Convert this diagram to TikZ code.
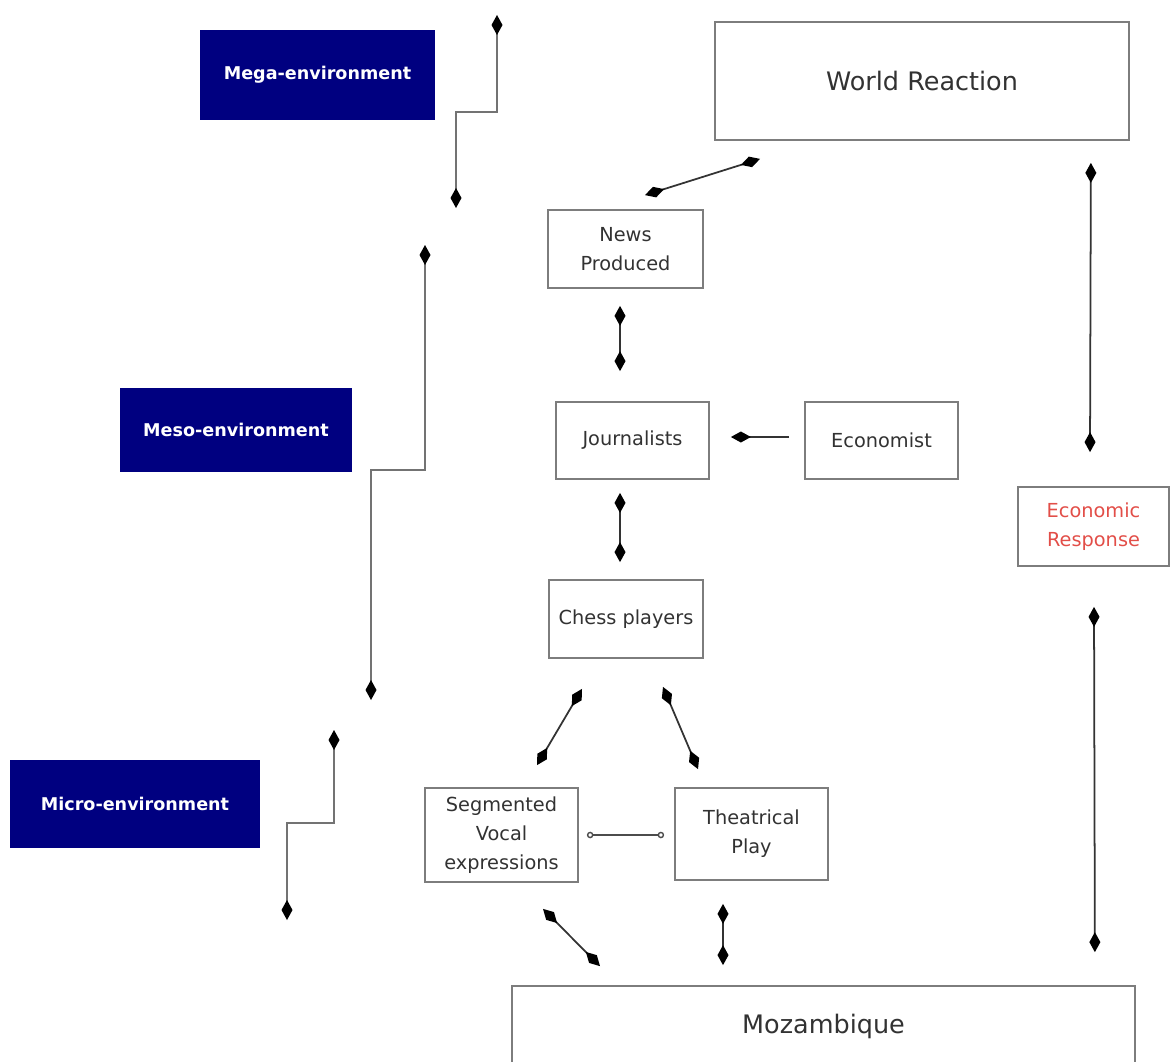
\documentclass[tikz,border=0pt]{standalone}
\usepackage{fontspec}
\setmainfont{DejaVu Sans}
\usetikzlibrary{arrows.meta,calc}

\definecolor{envblue}{RGB}{0,0,128}
\definecolor{boxline}{RGB}{125,125,125}
\definecolor{boxtext}{RGB}{50,50,50}
\definecolor{responsered}{RGB}{226,78,72}

\newcommand\px{0.2mm}
\newcommand\envtextstyle{\fontsize{10}{12}\selectfont\bfseries}
\newcommand\boxtextstyle{\fontsize{11}{16.4}\selectfont}
\newcommand\bigtextstyle{\fontsize{14.5}{17}\selectfont}

\tikzset{
  envbox/.style={fill=envblue, text=white, inner sep=0pt, font=\envtextstyle},
  itembox/.style={draw=boxline, line width=1pt, text=boxtext, align=center, inner sep=0pt, font=\boxtextstyle},
  bigbox/.style={itembox, font=\bigtextstyle},
  link/.style={draw=black!80, line width=1pt, {Diamond[length=4mm, width=2.2mm, color=black]}-{Diamond[length=4mm, width=2.2mm, color=black]}},
  onelink/.style={draw=black!80, line width=1pt, -{Diamond[length=4mm, width=2.2mm, color=black]}},
  steplink/.style={draw=black!55, line width=1pt, {Diamond[length=4mm, width=2.2mm, color=black]}-{Diamond[length=4mm, width=2.2mm, color=black]}},
  ringlink/.style={draw=black!70, line width=0.8pt, {Circle[open, length=1.3mm, fill=white]}-{Circle[open, length=1.3mm, fill=white]}},
}

\begin{document}
\begin{tikzpicture}[x=\px, y=-\px]
  \useasboundingbox (0,0) rectangle (1171,1061);
  % environment levels
  \node[envbox, minimum width=235*\px, minimum height=90*\px] (mega) at (317.5,75) {Mega-environment};
  \node[envbox, minimum width=232*\px, minimum height=84*\px] (meso) at (236,430) {Meso-environment};
  \node[envbox, minimum width=250*\px, minimum height=88*\px] (micro) at (135,804) {Micro-environment};
  \coordinate (megatop) at (497,15);   \coordinate (megabot) at (456,208);
  \coordinate (mesotop) at (425,245);  \coordinate (mesobot) at (371,700);
  \coordinate (microtop) at (334,730); \coordinate (microbot) at (287,920);
  \draw[steplink] (megatop) -- ++(0,97) -| (megabot);
  \draw[steplink] (mesotop) -- ++(0,225) -| (mesobot);
  \draw[steplink] (microtop) -- ++(0,93) -| (microbot);
  % boxes
  \node[bigbox, minimum width=414*\px, minimum height=118*\px] (world) at (922,81) {World Reaction};
  \node[itembox, minimum width=155*\px, minimum height=78*\px] (news) at (625.5,249) {News\\Produced};
  \node[itembox, minimum width=153*\px, minimum height=77*\px] (journ) at (632.5,440.5) {Journalists};
  \node[itembox, minimum width=153*\px, minimum height=77*\px] (econ) at (881.5,440.5) {Economist};
  \node[itembox, minimum width=154*\px, minimum height=78*\px] (chess) at (626,619) {Chess players};
  \node[itembox, minimum width=153*\px, minimum height=94*\px] (seg) at (501.5,835) {Segmented\\Vocal\\expressions};
  \node[itembox, minimum width=153*\px, minimum height=92*\px] (theat) at (751.5,834) {Theatrical\\Play};
  \node[itembox, text=responsered, minimum width=151*\px, minimum height=79*\px] (resp) at (1093.5,526.5) {Economic\\Response};
  \node[bigbox, minimum width=623*\px, minimum height=80*\px] (moz) at (823.5,1026) {Mozambique};
  % connectors
  \draw[link] ($(world.south)+(-162,18)$) -- ($(news.north)+(19.5,-14)$);
  \draw[link] ($(news.south)+(-5.5,17)$) -- ($(journ.north)+(-12.5,-30)$);
  \draw[onelink] ($(econ.west)+(-15,-3.5)$) -- ($(journ.east)+(21,-3.5)$);
  \draw[link] ($(journ.south)+(-12.5,13)$) -- ($(chess.north)+(-6,-17)$);
  \draw[link] ($(chess.south)+(-44,30)$) -- ($(seg.north)+(35.5,-22)$);
  \draw[link] ($(chess.south)+(37,28)$) -- ($(theat.north)+(-53.5,-18)$);
  \draw[ringlink] ($(seg.east)+(8,0)$) -- ($(theat.west)+(-10,1)$);
  \draw[link] ($(seg.south)+(41.5,26)$) -- ($(moz.north)+(-223.5,-19)$);
  \draw[link] ($(theat.south)+(-28.5,23)$) -- ($(moz.north)+(-100.5,-20)$);
  \draw[link] ($(world.south east)+(-39,22)$) -- ($(resp.north)+(-3.5,-34)$);
  \draw[link] ($(resp.south)+(0.5,40)$) -- ($(moz.north east)+(-41,-33)$);
\end{tikzpicture}
\end{document}
